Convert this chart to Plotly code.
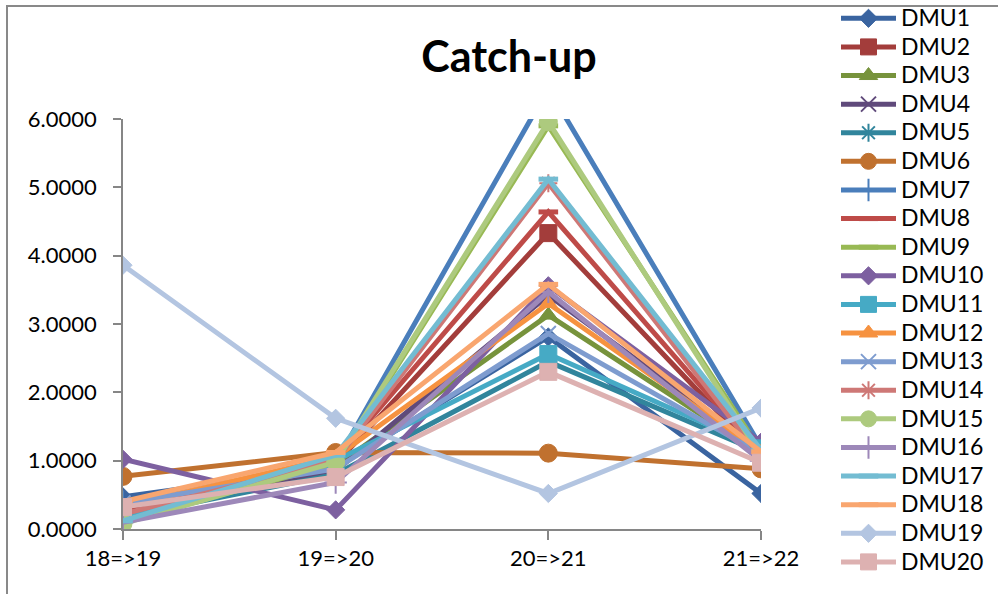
import plotly.graph_objects as go

# Period-to-period catch-up index for each DMU
categories = ["18=>19", "19=>20", "20=>21", "21=>22"]
dmu_names = [f"DMU{i}" for i in range(1, 21)]

dmu1 = [0.47, 0.90, 2.81, 0.52]
dmu2 = [0.25, 0.95, 4.33, 1.05]
dmu3 = [0.15, 0.92, 3.13, 1.10]
dmu4 = [0.20, 0.85, 3.42, 1.15]
dmu5 = [0.18, 0.80, 2.45, 1.12]
dmu6 = [0.77, 1.12, 1.11, 0.88]
dmu7 = [0.40, 0.97, 6.45, 1.20]
dmu8 = [0.30, 1.02, 4.64, 1.08]
dmu9 = [0.12, 0.95, 5.90, 1.14]
dmu10 = [1.02, 0.28, 3.56, 1.27]
dmu11 = [0.20, 1.00, 2.56, 1.18]
dmu12 = [0.33, 1.05, 3.30, 1.12]
dmu13 = [0.38, 0.88, 2.86, 1.10]
dmu14 = [0.22, 1.00, 5.06, 1.05]
dmu15 = [0.08, 0.98, 5.96, 1.07]
dmu16 = [0.10, 0.68, 3.47, 1.00]
dmu17 = [0.12, 1.08, 5.12, 1.16]
dmu18 = [0.40, 1.12, 3.58, 1.13]
dmu19 = [3.86, 1.62, 0.52, 1.77]
dmu20 = [0.32, 0.76, 2.30, 0.97]

series = [dmu1, dmu2, dmu3, dmu4, dmu5, dmu6, dmu7, dmu8, dmu9, dmu10,
          dmu11, dmu12, dmu13, dmu14, dmu15, dmu16, dmu17, dmu18, dmu19, dmu20]

colors = ["#3A64A0", "#A33D3B", "#77933C", "#604A7B", "#31859C", "#C0712F",
          "#4A7EBB", "#BE4B48", "#98B954", "#7D60A0", "#46AAC5", "#F69240",
          "#7E9CCF", "#CE7876", "#ADCA7E", "#9D88B9", "#73BCD2", "#F9A66F",
          "#B3C5E1", "#DDB1B1"]

# marker symbol, size, outline width (thin symbols are drawn by outline only)
marker_cycle = [
    ("diamond", 14, 1),
    ("square", 17, 1),
    ("triangle-up", 16, 1),
    ("x-thin", 15, 2),
    ("asterisk", 15, 2),
    ("circle", 18, 1),
    ("cross-thin", 16, 2),
    ("line-ew", 14, 5),
    ("line-ew", 14, 5),
]
# series 10-18 repeat the cycle, 19-20 restart it
marker_specs = marker_cycle + marker_cycle + marker_cycle[:2]

FONT = "Lato"

fig = go.Figure()
for name, vals, col, (sym, size, lw) in zip(dmu_names, series, colors, marker_specs):
    fig.add_trace(go.Scatter(
        x=categories,
        y=vals,
        # larger legend text while keeping the compact row spacing
        name=f"<span style='font-size:23px'>{name}</span>",
        mode="lines+markers",
        line=dict(color=col, width=5),
        marker=dict(symbol=sym, size=size, color=col,
                    line=dict(color=col, width=lw)),
        cliponaxis=True,
    ))

L, R, T, B = 123, 237, 119, 65
W, H = 998, 594
plot_w = W - L - R
plot_h = H - T - B

def px_x(px):
    return (px - L) / plot_w

def px_y(py):
    return (H - B - py) / plot_h

fig.update_layout(
    width=W,
    height=H,
    margin=dict(l=L, r=R, t=T, b=B, pad=0, autoexpand=False),
    paper_bgcolor="white",
    plot_bgcolor="white",
    font=dict(family=FONT, size=22, color="black"),
    title=dict(
        text="<b>Catch-up</b>",
        font=dict(family=FONT, size=43, color="black"),
        x=509 / W, xref="container", xanchor="center",
        y=1 - 57 / H, yref="container", yanchor="middle",
    ),
    xaxis=dict(
        type="category",
        range=[0, 3],
        showgrid=False,
        zeroline=False,
        showline=True,
        linecolor="#868686",
        linewidth=1.5,
        ticks="outside",
        ticklen=9,
        tickcolor="#868686",
        tickwidth=1.5,
        tickfont=dict(family=FONT, size=22),
    ),
    yaxis=dict(
        range=[0, 6],
        tickvals=[0, 1, 2, 3, 4, 5, 6],
        tickformat=".4f",
        showgrid=False,
        zeroline=False,
        showline=True,
        linecolor="#868686",
        linewidth=1.5,
        ticks="outside",
        ticklen=8,
        tickcolor="#868686",
        tickwidth=1.5,
        ticklabelstandoff=12,
        tickfont=dict(family=FONT, size=22),
    ),
    legend=dict(
        x=px_x(836),
        xanchor="left",
        y=px_y(-1),
        yanchor="top",
        font=dict(family=FONT, size=19.7),
        itemwidth=55,
        tracegroupgap=0,
        maxheight=600,
        bgcolor="rgba(0,0,0,0)",
    ),
    shapes=[dict(
        type="rect",
        xref="paper", yref="paper",
        x0=px_x(7), x1=px_x(1100),
        y0=px_y(6), y1=px_y(700),
        line=dict(color="#898989", width=2),
        fillcolor="rgba(0,0,0,0)",
        layer="below",
    )],
)

fig.write_html("out.html")
